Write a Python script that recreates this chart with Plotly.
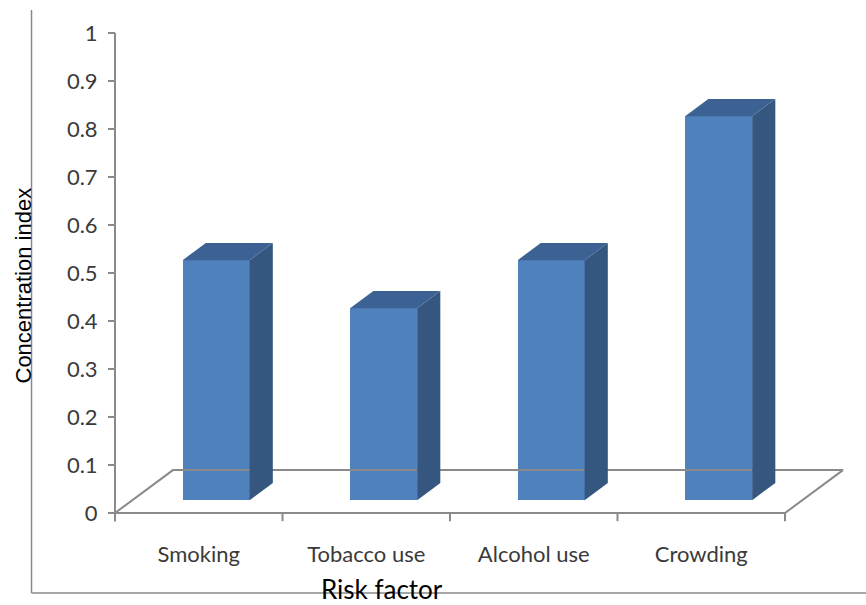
import plotly.graph_objects as go

# Data
categories = ["Smoking", "Tobacco use", "Alcohol use", "Crowding"]
values = [0.5, 0.4, 0.5, 0.8]
y_ticks = [0, 0.1, 0.2, 0.3, 0.4, 0.5, 0.6, 0.7, 0.8, 0.9, 1]
y_tick_text = ["0", "0.1", "0.2", "0.3", "0.4", "0.5", "0.6", "0.7", "0.8", "0.9", "1"]

# 3D projection settings (depth offset of the floor in data units)
DX = 0.346      # horizontal shift across full depth (category units)
DY = 0.0894     # vertical shift across full depth (value units)
D_FRONT = 0.30  # depth fraction where bar front faces sit
D_BACK = 0.70   # depth fraction where bar back faces sit
BAR_W = 0.4

FRONT = "#4F81BD"
SIDE = "#35567F"
TOP = "#3C6294"
LINE = "#8A8A8A"

n = len(categories)
fig = go.Figure()

# Floor parallelogram
fig.add_trace(go.Scatter(
    x=[0, n, n + DX, DX, 0], y=[0, 0, DY, DY, 0],
    mode="lines", line=dict(color=LINE, width=2),
    hoverinfo="skip", showlegend=False))

# Category tick marks below the floor's front edge
tx, ty = [], []
for i in range(n + 1):
    tx += [i, i, None]
    ty += [0, -0.017, None]
fig.add_trace(go.Scatter(x=tx, y=ty, mode="lines", line=dict(color=LINE, width=2),
                         hoverinfo="skip", showlegend=False))

# Value axis line
fig.add_trace(go.Scatter(x=[0, 0], y=[-0.017, 1], mode="lines",
                         line=dict(color=LINE, width=2),
                         hoverinfo="skip", showlegend=False))

# Front faces of the bars
base0 = D_FRONT * DY
centers = [i + 0.5 + D_FRONT * DX for i in range(n)]
fig.add_trace(go.Bar(
    x=centers, y=values, base=[base0] * n, width=BAR_W,
    marker=dict(color=FRONT, line=dict(width=0)),
    hovertext=categories, showlegend=False))

# Side and top faces
ddx = (D_BACK - D_FRONT) * DX
ddy = (D_BACK - D_FRONT) * DY
for c, v in zip(centers, values):
    xl, xr = c - BAR_W / 2, c + BAR_W / 2
    top = base0 + v
    fig.add_trace(go.Scatter(
        x=[xr, xr + ddx, xr + ddx, xr, xr],
        y=[base0, base0 + ddy, top + ddy, top, base0],
        fill="toself", fillcolor=SIDE, mode="lines", line=dict(width=0, color=SIDE),
        hoverinfo="skip", showlegend=False))
    fig.add_trace(go.Scatter(
        x=[xl, xr, xr + ddx, xl + ddx, xl],
        y=[top, top, top + ddy, top + ddy, top],
        fill="toself", fillcolor=TOP, mode="lines", line=dict(width=0, color=TOP),
        hoverinfo="skip", showlegend=False))

fig.update_layout(
    width=866, height=605,
    margin=dict(l=48, r=14, t=15, b=74),
    paper_bgcolor="white", plot_bgcolor="white",
    bargap=0,
    xaxis=dict(
        range=[-0.4, 4.4], showgrid=False, zeroline=False, showline=False,
        tickvals=[i + 0.5 for i in range(n)], ticktext=categories, ticks="",
        tickfont=dict(family="Lato", size=22, color="#3A3A3A"),
        ticklabelstandoff=8),
    yaxis=dict(
        range=[-0.0375, 1.0375], showgrid=False, zeroline=False, showline=False,
        anchor="free", position=67 / 804,
        tickvals=y_ticks, ticktext=y_tick_text,
        ticks="outside", ticklen=7, tickwidth=2, tickcolor=LINE,
        tickfont=dict(family="Lato", size=22, color="#3A3A3A"),
        ticklabelstandoff=6),
    shapes=[
        dict(type="line", xref="paper", yref="paper",
             x0=-0.0205, x1=-0.0205, y0=1.0097, y1=-0.1202,
             line=dict(color=LINE, width=1.5)),
        dict(type="line", xref="paper", yref="paper",
             x0=-0.0205, x1=1.02, y0=-0.1202, y1=-0.1202,
             line=dict(color=LINE, width=1.5)),
    ],
    annotations=[
        dict(text="Concentration index", xref="paper", yref="paper",
             x=-0.0305, y=0.4767, textangle=-90, showarrow=False,
             xanchor="center", yanchor="middle",
             font=dict(family="Liberation Sans", size=22, color="black")),
        dict(text="Risk factor", xref="paper", yref="paper",
             x=0.4154, y=-0.1122, showarrow=False,
             xanchor="center", yanchor="middle",
             font=dict(family="Lato", size=26, color="black")),
    ],
)

fig.write_html("out.html")
